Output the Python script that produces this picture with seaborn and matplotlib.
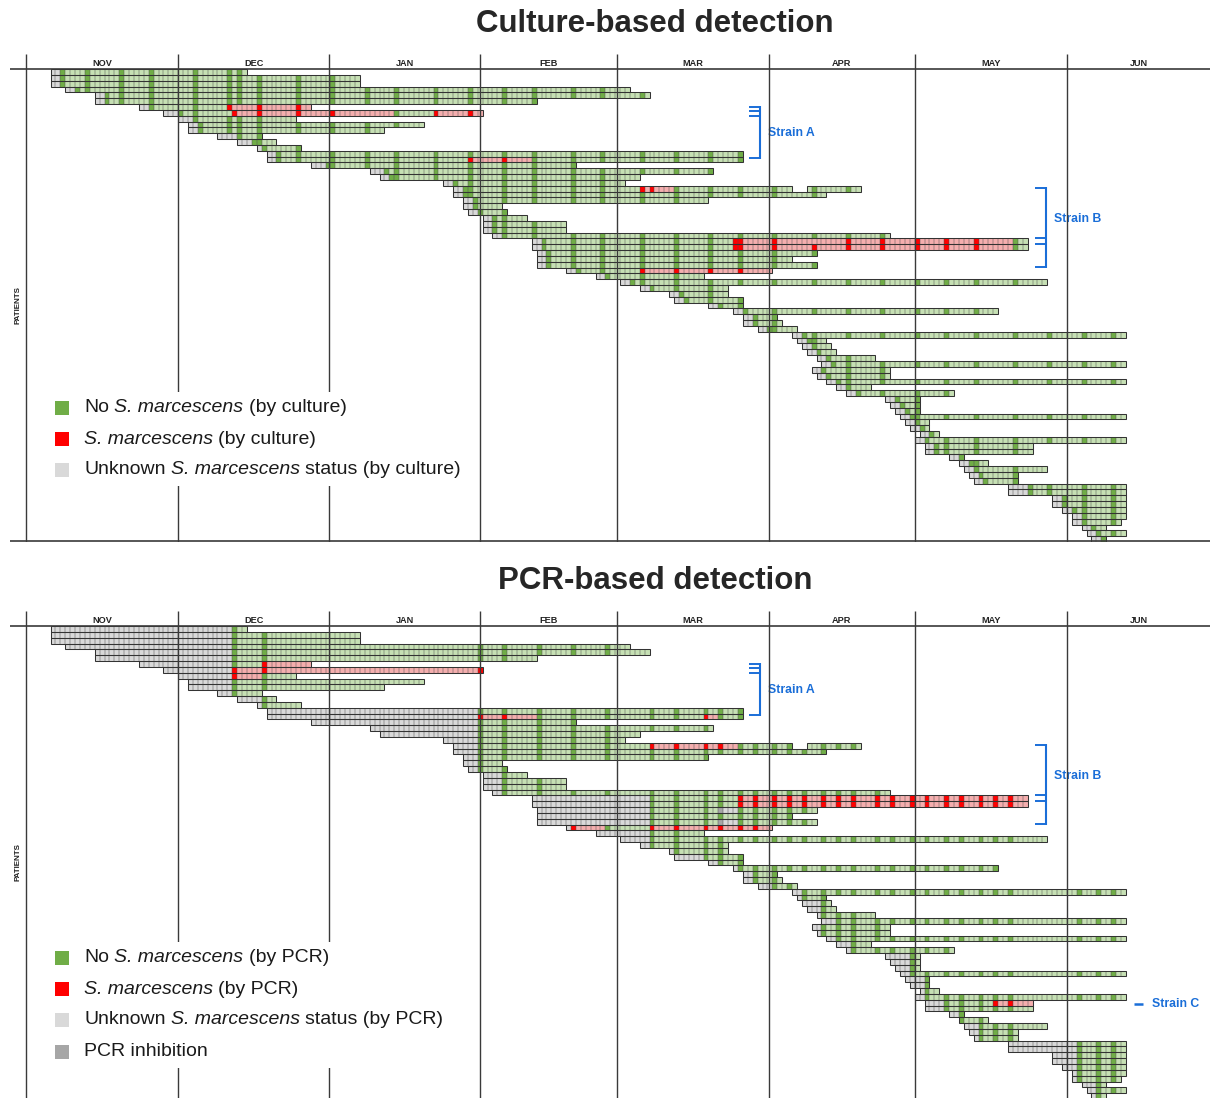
import numpy as np
import matplotlib
matplotlib.use("Agg")
import matplotlib.pyplot as plt
from matplotlib.colors import ListedColormap
from matplotlib.patches import Rectangle
from matplotlib.collections import LineCollection
import seaborn as sns

# Data ------------------------------------------------------------------------------------------------------------
# day index 0 = 1 November, one entry per patient row (top to bottom)
months = ["NOV", "DEC", "JAN", "FEB", "MAR", "APR", "MAY", "JUN"]
month_lines = [0, 31, 61.7, 92.5, 120.4, 151.3, 181, 212]

stay_start = [5, 5, 5, 8, 14, 14, 23, 28, 31, 33, 33, 39, 43, 47, 49, 49, 58, 70, 72, 85,
              87, 87, 89, 89, 90, 93, 93, 93, 95, 103, 103, 104, 104, 104, 110, 116, 121, 125, 131, 132,
              139, 144, 146, 146, 149, 156, 157, 158, 159, 161, 162, 160, 161, 163, 165, 167, 175, 176, 177, 178,
              179, 180, 182, 181, 183, 183, 188, 190, 191, 192, 193, 200, 200, 209, 209, 211, 213, 213, 215, 216,
              217]
stay_end = [44, 67, 67, 122, 126, 103, 57, 92, 54, 80, 72, 47, 50, 55, 145, 145, 111, 139, 124, 121,
            169, 162, 138, 96, 97, 101, 109, 109, 175, 203, 203, 160, 155, 160, 151, 137, 207, 142, 142, 145,
            145, 197, 152, 153, 156, 223, 162, 163, 164, 172, 223, 175, 175, 223, 171, 188, 181, 181, 181, 223,
            183, 183, 185, 223, 204, 204, 190, 195, 207, 201, 201, 223, 223, 223, 223, 223, 223, 222, 219, 223,
            219]
stay_gaps = {20: (156, 158)}

# culture: unknown days at admission, ward screening days, positives, skipped screenings
cult_gray = [2, 2, 2, 2, 2, 2, 2, 3, 3, 2, 2, 4, 3, 1, 2, 2, 3, 3, 2, 2,
             2, 2, 2, 2, 2, 2, 2, 2, 2, 2, 2, 2, 2, 2, 2, 2, 2, 2, 2, 2,
             2, 2, 2, 2, 2, 2, 2, 2, 2, 2, 2, 2, 2, 2, 2, 2, 2, 2, 2, 2,
             2, 2, 2, 2, 2, 2, 2, 2, 2, 2, 2, 4, 4, 2, 2, 2, 2, 2, 2, 2,
             2]
cult_screen = [7, 12, 19, 25, 34, 41, 43, 47, 55, 62, 69, 75, 83, 90, 97, 103, 111, 117, 125, 132,
               139, 145, 152, 160, 167, 174, 181, 187, 193, 201, 208, 215, 221]
cult_pos = {6: [41, 47, 55], 7: [42, 47, 55, 62, 83, 90], 15: [90, 97], 20: [125, 127],
            29: [144, 145, 152, 167, 174, 181, 187, 193],
            30: [144, 145, 152, 160, 167, 174, 181, 187, 193], 34: [125, 132, 139, 145]}
cult_missed = {6: [43], 7: [41, 43, 69], 29: [160]}

# PCR: first PCR day per row, PCR screening days, positives, inhibited samples
pcr_first = [42, 42, 42, 42, 42, 42, 42, 42, 42, 42, 42, 42, 48, 48, 92, 92, 92, 92, 92, 92,
             92, 92, 92, 92, 92, 97, 97, 97, 97, 127, 127, 127, 127, 127, 111, 127, 127, 127, 132, 138,
             141, 145, 148, 148, 152, 158, 158, 162, 162, 162, 165, 162, 162, 165, 168, 168, 180, 180, 180, 180,
             183, 183, 183, 183, 187, 187, 190, 190, 194, 194, 194, 214, 214, 214, 214, 214, 214, 214, 218, 218,
             218]
pcr_screen = [42, 48, 92, 97, 104, 111, 118, 127, 132, 138, 141, 145, 148, 152, 155, 158, 162, 165, 168,
              173, 176, 180, 183, 187, 190, 194, 197, 200, 214, 218, 221]
strain_b_pcr = [145, 148, 152, 155, 158, 162, 165, 168, 173, 176, 180, 183, 187, 190, 194, 197, 200]
pcr_pos = {6: [48], 7: [42, 48, 92], 8: [42], 15: [92, 97, 138], 20: [127, 132, 138, 141],
           29: strain_b_pcr, 30: strain_b_pcr, 34: [111, 127, 132, 138, 141, 145, 148], 64: [197, 200]}
pcr_inhib = {31: [141], 33: [141]}

# Colours ----------------------------------------------------------------------------------------------------------
c_lgreen, c_dgreen, c_red, c_pink, c_lgray, c_dgray = "#c6e0b4", "#70ad47", "#ff0000", "#f4aeae", "#d9d9d9", "#a6a6a6"
cell_cmap = ListedColormap([c_lgreen, c_dgreen, c_red, c_pink, c_lgray, c_dgray])
blue = "#1a6ed8"
line_c = "#3a3a3a"

n_rows = len(stay_start)
n_days = 226


def row_segments(r):
    if r in stay_gaps:
        a, b = stay_gaps[r]
        return [(stay_start[r], a - 1), (b + 1, stay_end[r])]
    return [(stay_start[r], stay_end[r])]


def status_matrix(first_days, screen, pos, missed, inhib):
    # 0 neg (carried), 1 neg sample, 2 pos sample, 3 pos (carried), 4 unknown, 5 inhibited
    mat = np.full((n_rows, n_days), np.nan)
    for r in range(n_rows):
        s, e, f = stay_start[r], stay_end[r], first_days[r]
        p = set(pos.get(r, []))
        inh = set(inhib.get(r, []))
        samples = ({f} | {d for d in screen if d > f} | p | inh) - set(missed.get(r, []))
        state = 4
        for d in range(s, e + 1):
            if d >= f and d in samples:
                if d in p:
                    code, state = 2, 3
                elif d in inh:
                    code, state = 5, 4
                else:
                    code, state = 1, 0
            else:
                code = state
            mat[r, d] = code
        if r in stay_gaps:
            a, b = stay_gaps[r]
            mat[r, a:b + 1] = np.nan
    return mat


cult_first = [s + g for s, g in zip(stay_start, cult_gray)]
cult_mat = status_matrix(cult_first, cult_screen, cult_pos, cult_missed, {})
pcr_mat = status_matrix(pcr_first, pcr_screen, pcr_pos, {}, pcr_inhib)

# Layout helpers (pixel -> data) ------------------------------------------------------------------------------------
W, H = 1210, 1098
px_day, px_row = 4.91, 5.84


def day_x(px):
    return (px - 26) / px_day


def fx(px):
    return px / W


def fy(py):
    return 1 - py / H


sns.set_style("white")
plt.rcParams["font.family"] = ["Liberation Sans", "DejaVu Sans"]

fig = plt.figure(figsize=(W / 100, H / 100), dpi=100)
renderer = fig.canvas.get_renderer()


def text_width(s, size, style):
    t = fig.text(0, 0, s, fontsize=size, style=style)
    w = t.get_window_extent(renderer).width
    t.remove()
    return w


def rich_text(x_px, y_px, parts, size=14):
    # parts: list of (text, style); a single " " is a normal word space
    space_w = text_width("N N", size, "normal") - text_width("NN", size, "normal")
    x = x_px
    for txt, style in parts:
        if txt == " ":
            x += space_w
            continue
        fig.text(fx(x), fy(y_px), txt, fontsize=size, style=style, ha="left", va="center",
                 color="#1a1a1a", zorder=8)
        x += text_width(txt, size, style)


def draw_panel(header_px, top_px, bottom_px, mat, title, legend, box_w, strain_c=False, bottom_line=True):
    ax = fig.add_axes([fx(10), fy(bottom_px), fx(1200), (bottom_px - top_px) / H])
    sns.heatmap(mat, ax=ax, mask=np.isnan(mat), cmap=cell_cmap, vmin=-0.5, vmax=5.5, cbar=False,
                xticklabels=False, yticklabels=False)
    y_top = (top_px - header_px) / px_row
    y_bot = (bottom_px - header_px) / px_row
    ax.set_xlim(day_x(10), day_x(1210))
    ax.set_ylim(y_bot, y_top)
    for sp in ax.spines.values():
        sp.set_visible(False)
    ax.set_xlabel("")
    ax.set_ylabel("")

    def row_y(py):
        return (py - header_px) / px_row

    # cell borders only inside each stay, then the row outline
    inner = []
    for r in range(n_rows):
        for s, e in row_segments(r):
            inner += [[(d, r), (d, r + 1)] for d in range(s + 1, e + 1)]
    ax.add_collection(LineCollection(inner, colors="#505050", linewidths=0.35, zorder=2))
    for r in range(n_rows):
        for s, e in row_segments(r):
            ax.add_patch(Rectangle((s, r), e - s + 1, 1, fill=False, lw=0.75, edgecolor="#333333", zorder=2.5))

    # month grid
    ax.vlines(month_lines, y_top + 0.6, y_bot, color=line_c, lw=1.0, zorder=4)
    ax.axhline(0, color=line_c, lw=1.2, zorder=4)
    if bottom_line:
        ax.axhline(y_bot - 0.1, color=line_c, lw=1.2, zorder=4)
    centers = [(a + b) / 2 for a, b in zip(month_lines, month_lines[1:] + [day_x(1210)])]
    for m, c in zip(months, centers):
        ax.text(c, -1.0, m, ha="center", va="center", fontsize=6.6, fontweight="bold", color="#222222")
    ax.text(day_x(18), row_y(header_px + 236), "PATIENTS", rotation=90, ha="center", va="center",
            fontsize=5.8, fontweight="bold", color="#222222")

    # strain brackets
    def bracket(x_v, x_t, ys, y0, y1):
        ax.plot([x_v, x_v], [y0, y1], color=blue, lw=1.5, clip_on=False, zorder=5,
                solid_capstyle="butt")
        for yy in ys:
            ax.plot([x_t, x_v], [yy, yy], color=blue, lw=1.4, clip_on=False, zorder=5,
                    solid_capstyle="butt")

    off = header_px - 69
    bracket(day_x(760), day_x(749), [row_y(106.7 + off), row_y(111.3 + off), row_y(115.9 + off),
                                     row_y(157.8 + off)], row_y(106 + off), row_y(158.5 + off))
    ax.text(day_x(768), row_y(133 + off), "Strain A", color=blue, fontsize=8.8, fontweight="bold",
            ha="left", va="center")
    bracket(day_x(1046), day_x(1035), [row_y(188 + off), row_y(238 + off), row_y(243.5 + off),
                                       row_y(267 + off)], row_y(187.3 + off), row_y(267.7 + off))
    ax.text(day_x(1054), row_y(219 + off), "Strain B", color=blue, fontsize=8.8, fontweight="bold",
            ha="left", va="center")
    if strain_c:
        ax.plot([day_x(1134), day_x(1143)], [row_y(1004), row_y(1004)], color=blue, lw=1.8,
                clip_on=False, zorder=5, solid_capstyle="butt")
        ax.text(day_x(1152), row_y(1004), "Strain C", color=blue, fontsize=8.8, fontweight="bold",
                ha="left", va="center")

    # title
    fig.text(0.5413, fy(top_px - 26), title, ha="center", va="center", fontsize=22.5, fontweight="bold")

    # legend block on white background
    leg_top = legend[0][2] - 16
    leg_bot = legend[-1][2] + 16
    fig.add_artist(Rectangle((fx(40), fy(leg_bot)), fx(box_w), (leg_bot - leg_top) / H,
                             transform=fig.transFigure, facecolor="white", edgecolor="none", zorder=6))
    for color, parts, yc in legend:
        fig.add_artist(Rectangle((fx(55), fy(yc + 7)), fx(14), 14 / H, transform=fig.transFigure,
                                 facecolor=color, edgecolor="none", zorder=7))
        rich_text(84, yc, parts)
    return ax


SM = ("S. marcescens", "italic")
SP = (" ", "normal")
legend_cult = [(c_dgreen, [("No", "normal"), SP, SM, SP, ("(by culture)", "normal")], 408),
               (c_red, [SM, SP, ("(by culture)", "normal")], 439),
               (c_lgray, [("Unknown", "normal"), SP, SM, SP, ("status (by culture)", "normal")], 470)]
legend_pcr = [(c_dgreen, [("No", "normal"), SP, SM, SP, ("(by PCR)", "normal")], 958),
              (c_red, [SM, SP, ("(by PCR)", "normal")], 989),
              (c_lgray, [("Unknown", "normal"), SP, SM, SP, ("status (by PCR)", "normal")], 1020),
              (c_dgray, [("PCR inhibition", "normal")], 1052)]

draw_panel(69, 50, 542, cult_mat, "Culture-based detection", legend_cult, 425)
draw_panel(626, 607, 1098, pcr_mat, "PCR-based detection", legend_pcr, 410, strain_c=True, bottom_line=False)

fig.savefig("out.png", dpi=100)
